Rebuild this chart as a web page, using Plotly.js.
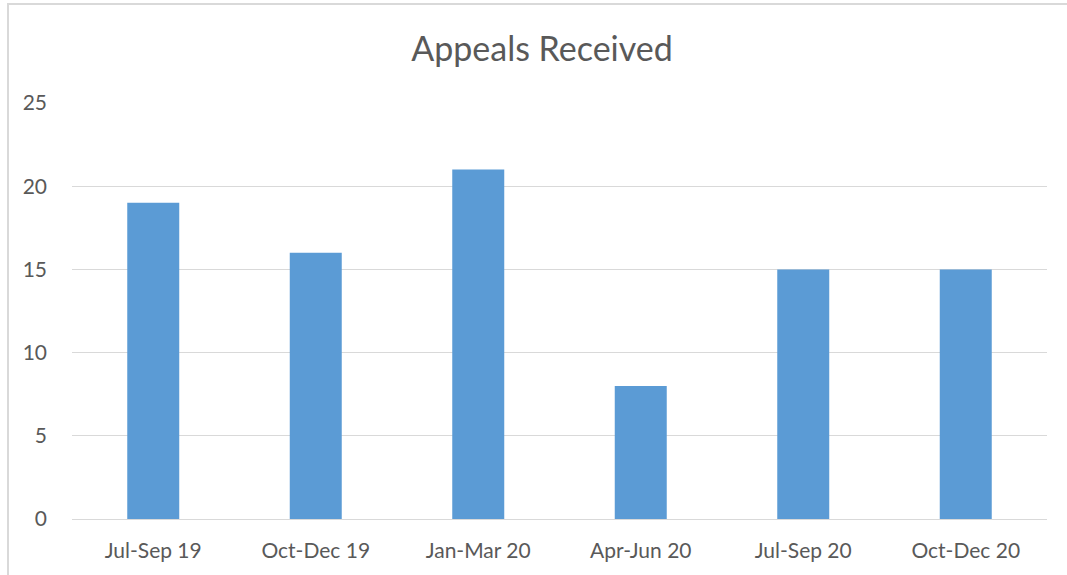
<!DOCTYPE html>
<html><head><meta charset="utf-8">
<script src="https://cdn.plot.ly/plotly-3.0.1.min.js"></script>
<style>
html,body{margin:0;padding:0;background:#fff;}
#frame{position:absolute;left:7px;top:3px;width:1060px;height:572px;border-left:2px solid #d9d9d9;border-top:2px solid #d9d9d9;}
#chart{position:absolute;left:0;top:0;width:1067px;height:575px;}
</style></head>
<body>
<div id="frame"></div>
<div id="chart"></div>
<script>
const categories = ["Jul-Sep 19","Oct-Dec 19","Jan-Mar 20","Apr-Jun 20","Jul-Sep 20","Oct-Dec 20"];
const appeals = [19,16,21,8,15,15];
const yTicks = [0,5,10,15,20,25];

const font = "Lato, Open Sans, sans-serif";
Plotly.newPlot("chart", [{
  type: "bar",
  x: categories,
  y: appeals,
  marker: {color: "#5b9bd5"},
  hoverinfo: "x+y"
}], {
  width: 1067, height: 575,
  margin: {l: 72, r: 20, t: 103, b: 56},
  paper_bgcolor: "rgba(0,0,0,0)",
  plot_bgcolor: "rgba(0,0,0,0)",
  bargap: 0.68,
  showlegend: false,
  title: {text: "Appeals Received", x: 0.508, xanchor: "center", y: 0.915, yanchor: "middle",
          font: {family: font, size: 34, color: "#595959"}},
  xaxis: {
    tickfont: {family: font, size: 21, color: "#595959"},
    showgrid: false, showline: true, linecolor: "#d9d9d9", linewidth: 1,
    ticks: "", ticklabelstandoff: 13, fixedrange: true
  },
  yaxis: {
    range: [0, 25], tickvals: yTicks, ticktext: yTicks.map(String),
    tickfont: {family: font, size: 21, color: "#595959"},
    showgrid: true, gridcolor: "#d9d9d9", gridwidth: 1,
    zeroline: false, showline: false, ticks: "",
    ticklabelstandoff: 24, fixedrange: true
  }
}, {displayModeBar: false, staticPlot: true});
</script>
</body></html>
